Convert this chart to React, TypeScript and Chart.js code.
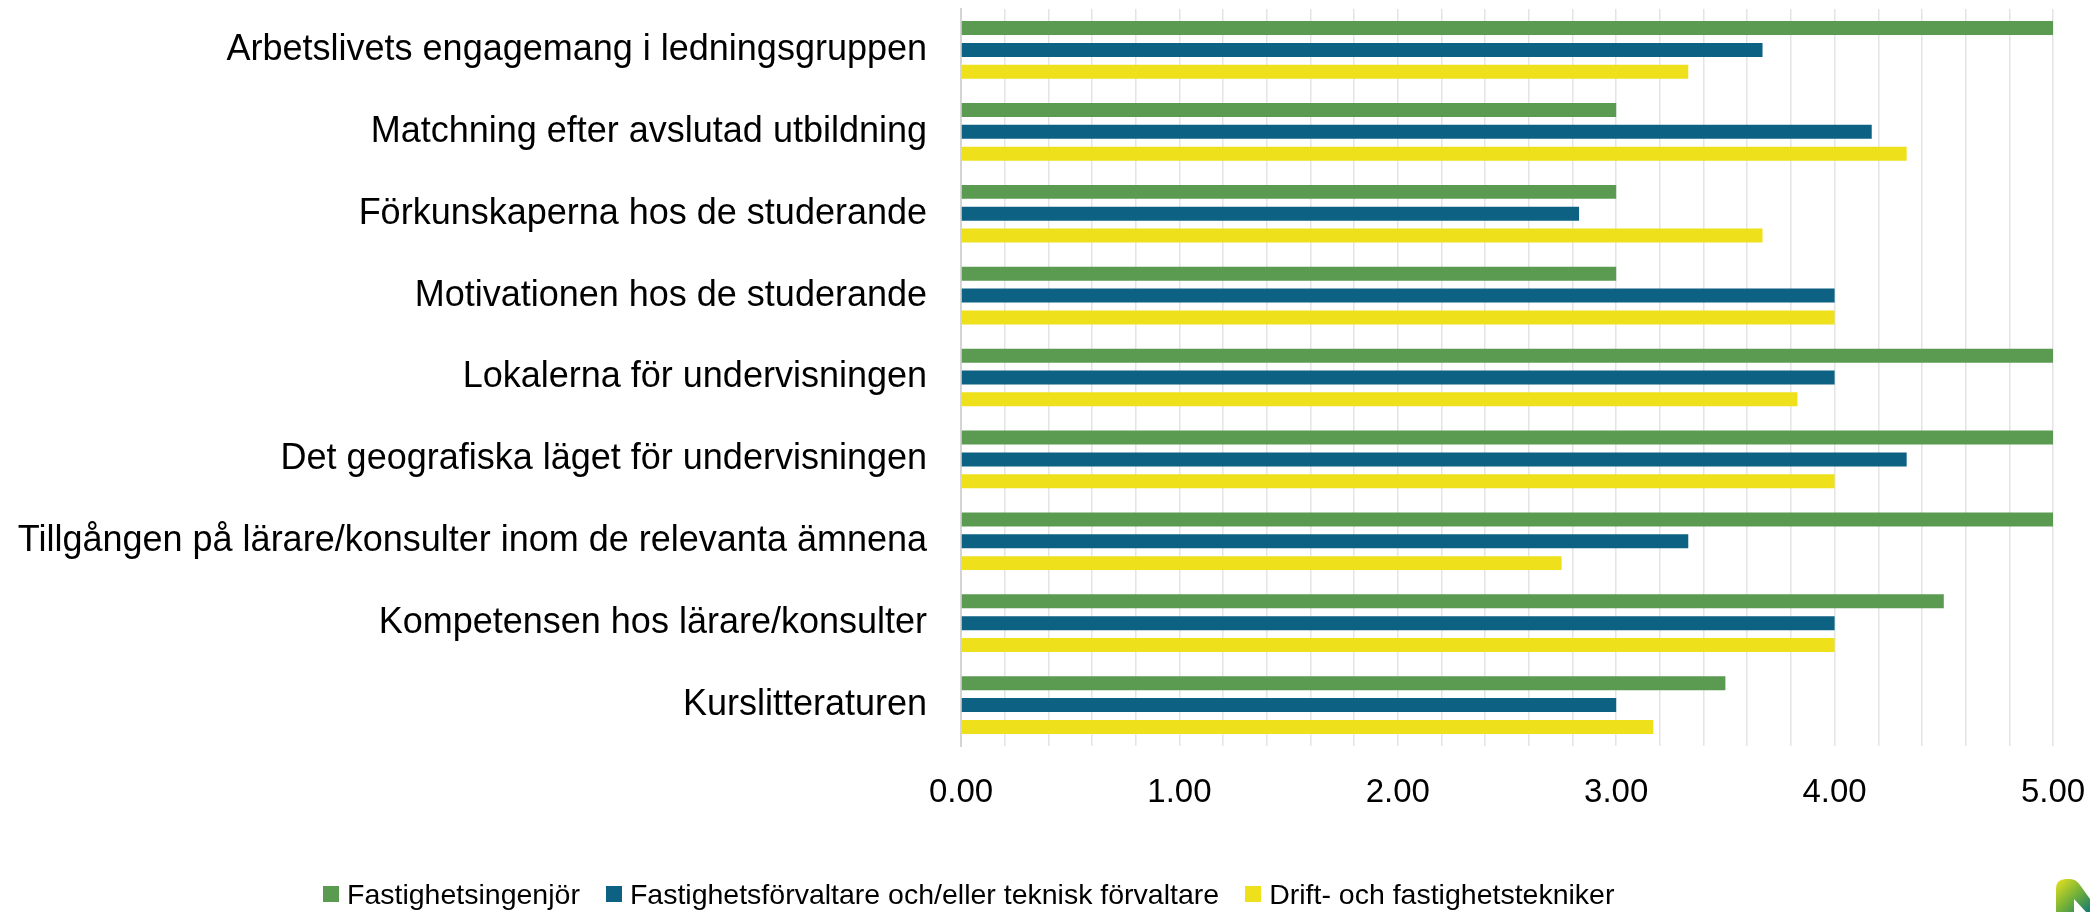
import React, { useEffect, useRef } from "react";
import { Chart, registerables } from "chart.js";

Chart.register(...registerables);

const categories = [
  "Arbetslivets engagemang i ledningsgruppen",
  "Matchning efter avslutad utbildning",
  "Förkunskaperna hos de studerande",
  "Motivationen hos de studerande",
  "Lokalerna för undervisningen",
  "Det geografiska läget för undervisningen",
  "Tillgången på lärare/konsulter inom de relevanta ämnena",
  "Kompetensen hos lärare/konsulter",
  "Kurslitteraturen",
];

const seriesNames = [
  "Fastighetsingenjör",
  "Fastighetsförvaltare och/eller teknisk förvaltare",
  "Drift- och fastighetstekniker",
];

const ingenjor = [5.0, 3.0, 3.0, 3.0, 5.0, 5.0, 5.0, 4.5, 3.5];
const forvaltare = [3.67, 4.17, 2.83, 4.0, 4.0, 4.33, 3.33, 4.0, 3.0];
const tekniker = [3.33, 4.33, 3.67, 4.0, 3.83, 4.0, 2.75, 4.0, 3.17];

const colors = ["#5A9B51", "#0D6183", "#EEE11B"];
const xMin = 0;
const xMax = 5;
const xStep = 0.2;

const FONT = "'Liberation Sans', Arial, sans-serif";

export default function App() {
  const ref = useRef<HTMLCanvasElement | null>(null);

  useEffect(() => {
    if (!ref.current) return;
    const chart = new Chart(ref.current, {
      type: "bar",
      data: {
        labels: categories,
        datasets: [ingenjor, forvaltare, tekniker].map((d, i) => ({
          label: seriesNames[i],
          data: d,
          backgroundColor: colors[i],
          borderWidth: 0,
          categoryPercentage: 0.8,
          barPercentage: 0.64,
        })),
      },
      options: {
        indexAxis: "y",
        animation: false,
        responsive: true,
        maintainAspectRatio: false,
        layout: { padding: { top: 9, right: 37, left: 0, bottom: 0 } },
        plugins: { legend: { display: false }, tooltip: { enabled: false } },
        scales: {
          x: {
            min: xMin,
            max: xMax,
            afterFit: (s: any) => {
              s.height = 166;
              s.paddingLeft = 0;
              s.paddingRight = 0;
            },
            ticks: {
              stepSize: xStep,
              autoSkip: false,
              maxRotation: 0,
              padding: 27,
              color: "#000",
              font: { family: FONT, size: 33 },
              callback: (v: any) => {
                const n = Number(v);
                return Math.abs(n - Math.round(n)) < 1e-6 ? n.toFixed(2) : "";
              },
            },
            grid: { color: "#E4E4E4", lineWidth: 1.5, drawTicks: false },
            border: { display: false },
          },
          y: {
            afterFit: (s: any) => {
              s.width = 961;
              s.paddingTop = 0;
              s.paddingBottom = 0;
            },
            ticks: {
              padding: 34,
              color: "#000",
              font: { family: FONT, size: 36 },
            },
            grid: { display: false, drawTicks: false },
            border: { display: true, color: "#D4D4D4", width: 2 },
          },
        },
      },
    });
    return () => chart.destroy();
  }, []);

  return (
    <div style={{ position: "absolute", left: 0, top: 0, width: 2090, height: 912, background: "#fff" }}>
      <canvas ref={ref} />
      <div
        style={{
          position: "absolute",
          left: 323,
          top: 876,
          display: "flex",
          alignItems: "center",
          fontFamily: FONT,
          fontSize: 28.5,
          color: "#000",
          whiteSpace: "nowrap",
          lineHeight: "36px",
        }}
      >
        {seriesNames.map((n, i) => (
          <div key={n} style={{ display: "flex", alignItems: "center", marginRight: 26 }}>
            <span style={{ display: "inline-block", width: 16, height: 16, background: colors[i], marginRight: 8 }} />
            <span>{n}</span>
          </div>
        ))}
      </div>
      <svg
        width={34}
        height={33}
        viewBox="0 0 34 33"
        style={{ position: "absolute", left: 2056, top: 879 }}
      >
        <defs>
          <linearGradient id="lg" x1="0" y1="0" x2="1" y2="1">
            <stop offset="0" stopColor="#E9E21E" />
            <stop offset="0.55" stopColor="#6FAE3A" />
            <stop offset="1" stopColor="#157A70" />
          </linearGradient>
        </defs>
        <path d="M0 33 L0 10 Q0 0 10 0 L14 0 Q20 0 24 6 L34 20 L34 33 L30 33 L18 20 L18 33 Z" fill="url(#lg)" />
      </svg>
    </div>
  );
}
